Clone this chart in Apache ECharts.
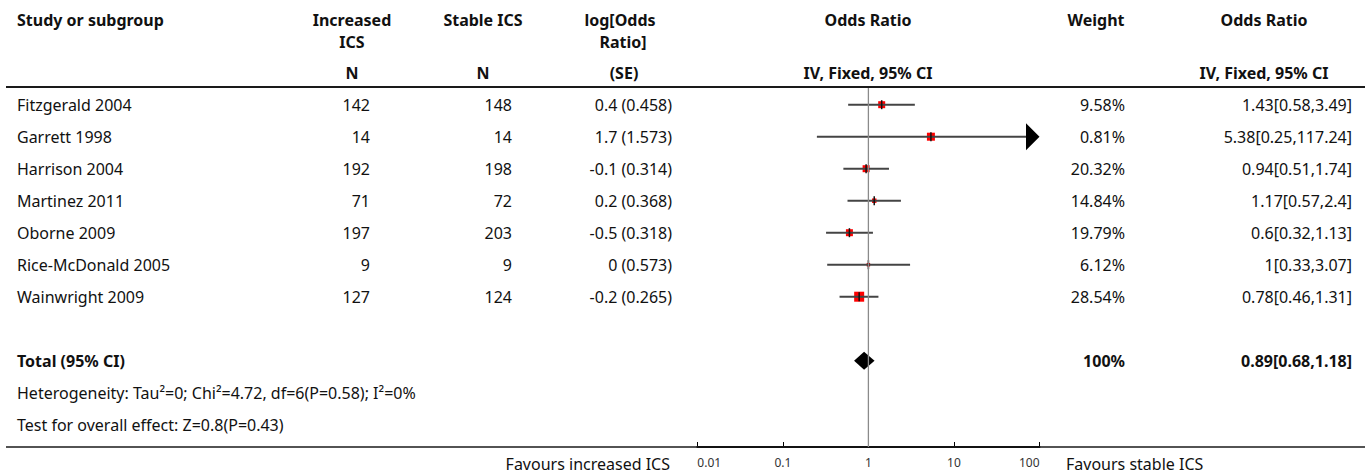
<!DOCTYPE html>
<html>
<head>
<meta charset="utf-8">
<title>Forest plot: increased vs stable ICS</title>
<script src="https://cdn.jsdelivr.net/npm/echarts@6/dist/echarts.min.js"></script>
<style>
  html, body { margin: 0; padding: 0; background: #fff; }
  #chart { width: 1370px; height: 475px; }
</style>
</head>
<body>
<div id="chart"></div>
<script>
// ---- Study data ----
const studies = ['Fitzgerald 2004', 'Garrett 1998', 'Harrison 2004', 'Martinez 2011',
                 'Oborne 2009', 'Rice-McDonald 2005', 'Wainwright 2009'];
const nIncreased = [142, 14, 192, 71, 197, 9, 127];
const nStable    = [148, 14, 198, 72, 203, 9, 124];
const logOR      = [0.4, 1.7, -0.1, 0.2, -0.5, 0, -0.2];
const logSE      = [0.458, 1.573, 0.314, 0.368, 0.318, 0.573, 0.265];
const weights    = [9.58, 0.81, 20.32, 14.84, 19.79, 6.12, 28.54];
const oddsRatio  = [1.43, 5.38, 0.94, 1.17, 0.6, 1, 0.78];
const ciLow      = [0.58, 0.25, 0.51, 0.57, 0.32, 0.33, 0.46];
const ciHigh     = [3.49, 117.24, 1.74, 2.4, 1.13, 3.07, 1.31];

// Pooled estimate: [OR, lower, upper] and total weight
const totalOR     = [0.89, 0.68, 1.18];
const totalWeight = 100;

// Heterogeneity: [Tau², Chi², df, P, I² (%)] and overall effect: [Z, P]
const heterogeneity = [0, 4.72, 6, 0.58, 0];
const overallEffect = [0.8, 0.43];

// Odds ratio axis
const tickValues = [0.01, 0.1, 1, 10, 100];
const tickLabels = ['0.01', '0.1', '1', '10', '100'];

// ---- Layout ----
const W = 1370, H = 475;
const ROW0 = 104.7, ROW_H = 32;      // first study row centre and row pitch (px)
const AXIS_Y = 447;                  // bottom rule / odds-ratio axis line
const HEADER_RULE_Y = 87;
const toRow = px => (px - ROW0) / ROW_H;
const Y_MIN = toRow(0), Y_MAX = toRow(H), PLOT_Y_MAX = toRow(AXIS_Y);
const PLOT_LEFT = 697.3, PLOT_RIGHT = 1039.5;
const X_MIN = tickValues[0], X_MAX = tickValues[tickValues.length - 1];

const FONT = '"Noto Sans", "DejaVu Sans", sans-serif';
const TEXT = '#111';
const BODY_SIZE = 16;
const BOX = [7, 8, 7, 4.5, 7, 3.5, 10];   // marker square sizes (px)

const ROW_TOTAL = 8, ROW_HET = 9, ROW_TEST = 10;

// Column anchors (px) and alignment
const COL = {
  study:  [17, 'left'],
  nInc:   [370, 'right'],
  nSt:    [512, 'right'],
  logor:  [672, 'right'],
  weight: [1125, 'right'],
  orci:   [1352, 'right']
};

// ---- Table cells ----
const cells = [];
function cell(text, x, row, align, bold, size) {
  cells.push({ text: String(text), x, row, align, bold: !!bold, size: size || BODY_SIZE });
}
function colCell(col, text, row, bold) { cell(text, COL[col][0], row, COL[col][1], bold); }

// header
const H1 = toRow(20), H2 = toRow(42), H3 = toRow(73);
cell('Study or subgroup', 17, H1, 'left', true);
cell('Increased', 352, H1, 'center', true);
cell('ICS', 352, H2, 'center', true);
cell('N', 352, H3, 'center', true);
cell('Stable ICS', 483, H1, 'center', true);
cell('N', 483, H3, 'center', true);
cell('log[Odds', 620, H1, 'center', true);
cell('Ratio]', 623, H2, 'center', true);
cell('(SE)', 624, H3, 'center', true);
cell('Odds Ratio', 868, H1, 'center', true);
cell('IV, Fixed, 95% CI', 868, H3, 'center', true);
cell('Weight', 1096, H1, 'center', true);
cell('Odds Ratio', 1264, H1, 'center', true);
cell('IV, Fixed, 95% CI', 1264, H3, 'center', true);

// study rows
studies.forEach((s, i) => {
  colCell('study', s, i);
  colCell('nInc', nIncreased[i], i);
  colCell('nSt', nStable[i], i);
  colCell('logor', `${logOR[i]} (${logSE[i]})`, i);
  colCell('weight', `${weights[i]}%`, i);
  colCell('orci', `${oddsRatio[i]}[${ciLow[i]},${ciHigh[i]}]`, i);
});

// totals and statistics
colCell('study', 'Total (95% CI)', ROW_TOTAL, true);
colCell('weight', `${totalWeight}%`, ROW_TOTAL, true);
colCell('orci', `${totalOR[0]}[${totalOR[1]},${totalOR[2]}]`, ROW_TOTAL, true);
colCell('study', `Heterogeneity: Tau\u00B2=${heterogeneity[0]}; Chi\u00B2=${heterogeneity[1]}, df=${heterogeneity[2]}(P=${heterogeneity[3]}); I\u00B2=${heterogeneity[4]}%`, ROW_HET);
colCell('study', `Test for overall effect: Z=${overallEffect[0]}(P=${overallEffect[1]})`, ROW_TEST);

// favours labels under the axis
cell('Favours increased ICS', 670, toRow(464), 'right', false);
cell('Favours stable ICS', 1066, toRow(464), 'left', false);

// ---- Render helpers ----
function renderCell(params, api) {
  const c = cells[params.dataIndex];
  const p = api.coord([c.x, c.row]);
  return {
    type: 'text',
    x: p[0], y: p[1],
    style: {
      text: c.text, align: c.align, verticalAlign: 'middle',
      fontFamily: FONT, fontSize: c.size, fontWeight: c.bold ? 'bold' : 'normal',
      fill: TEXT
    }
  };
}

// horizontal rules: header rule and bottom rule
const rules = [[HEADER_RULE_Y, 2, '#1a1a1a'], [AXIS_Y, 1.5, '#1a1a1a']];
function renderRule(params, api) {
  const r = rules[params.dataIndex];
  const a = api.coord([6, toRow(r[0])]);
  const b = api.coord([1365, toRow(r[0])]);
  return {
    type: 'line',
    shape: { x1: a[0], y1: a[1], x2: b[0], y2: b[1] },
    style: { stroke: r[2], lineWidth: r[1] }
  };
}

const ARROW_W = 13.5, ARROW_H = 13.5, TICK_HALF = 4.5;
function renderStudy(params, api) {
  const or = api.value(0), row = api.value(1), lo = api.value(2), hi = api.value(3);
  const pOr = api.coord([or, row]);
  const pLo = api.coord([Math.max(lo, X_MIN), row]);
  const clipped = hi > X_MAX;
  const pHi = api.coord([Math.min(hi, X_MAX), row]);
  const s = BOX[params.dataIndex];
  const children = [
    { type: 'rect', shape: { x: pOr[0] - s / 2, y: pOr[1] - s / 2, width: s, height: s },
      style: { fill: '#ff0000' } },
    { type: 'line',
      shape: { x1: pLo[0], y1: pLo[1], x2: clipped ? pHi[0] - ARROW_W : pHi[0], y2: pHi[1] },
      style: { stroke: '#444', lineWidth: 2 } },
    { type: 'line',
      shape: { x1: pOr[0], y1: pOr[1] - TICK_HALF, x2: pOr[0], y2: pOr[1] + TICK_HALF },
      style: { stroke: '#111', lineWidth: 1.5 } }
  ];
  if (clipped) {
    children.push({
      type: 'polygon',
      shape: { points: [[pHi[0] - ARROW_W, pHi[1] - ARROW_H], [pHi[0], pHi[1]], [pHi[0] - ARROW_W, pHi[1] + ARROW_H]] },
      style: { fill: '#000' }
    });
  }
  return { type: 'group', children };
}

function renderDiamond(params, api) {
  const or = api.value(0), row = api.value(1), lo = api.value(2), hi = api.value(3);
  const c = api.coord([or, row]);
  const l = api.coord([lo, row]);
  const r = api.coord([hi, row]);
  const h = 9;
  return {
    type: 'polygon',
    shape: { points: [[l[0], l[1]], [c[0], c[1] - h], [r[0], r[1]], [c[0], c[1] + h]] },
    style: { fill: '#000' }
  };
}

function tickLabel(v) {
  const i = tickValues.findIndex(t => Math.abs(Math.log10(t) - Math.log10(v)) < 1e-6);
  return i >= 0 ? tickLabels[i] : '';
}

const chart = echarts.init(document.getElementById('chart'), null, { renderer: 'svg' });
chart.setOption({
  animation: false,
  backgroundColor: '#fff',
  grid: [
    { left: 0, right: 0, top: 0, bottom: 0, outerBoundsMode: 'none' },
    { left: PLOT_LEFT, right: W - PLOT_RIGHT, top: 0, bottom: H - AXIS_Y, outerBoundsMode: 'none' }
  ],
  xAxis: [
    { gridIndex: 0, type: 'value', min: 0, max: W, show: false },
    {
      gridIndex: 1, type: 'log', logBase: 10, min: X_MIN, max: X_MAX, splitNumber: 4,
      position: 'bottom',
      axisLine: { show: true, onZero: false, lineStyle: { color: '#000', width: 2 } },
      axisTick: { show: true, inside: true, length: 5, lineStyle: { color: '#000', width: 1 } },
      minorTick: { show: false },
      splitLine: { show: false },
      axisLabel: {
        show: true, color: '#333', fontFamily: FONT, fontSize: 12, margin: 9,
        showMinLabel: true, showMaxLabel: true,
        alignMinLabel: 'left', alignMaxLabel: 'right',
        formatter: tickLabel
      }
    }
  ],
  yAxis: [
    { gridIndex: 0, type: 'value', min: Y_MIN, max: Y_MAX, inverse: true, show: false },
    { gridIndex: 1, type: 'value', min: Y_MIN, max: PLOT_Y_MAX, inverse: true, show: false }
  ],
  series: [
    {
      name: 'rules', type: 'custom', xAxisIndex: 0, yAxisIndex: 0,
      renderItem: renderRule, data: rules.map((r, i) => [i, 0]), silent: true
    },
    {
      name: 'no effect', type: 'line', xAxisIndex: 1, yAxisIndex: 1,
      data: [[1, toRow(HEADER_RULE_Y + 1)], [1, PLOT_Y_MAX]],
      symbol: 'none', lineStyle: { color: '#8a8a8a', width: 1.3 }, silent: true
    },
    {
      name: 'studies', type: 'custom', xAxisIndex: 1, yAxisIndex: 1,
      renderItem: renderStudy,
      data: studies.map((s, i) => [oddsRatio[i], i, ciLow[i], ciHigh[i]]),
      clip: false, silent: true
    },
    {
      name: 'total', type: 'custom', xAxisIndex: 1, yAxisIndex: 1,
      renderItem: renderDiamond,
      data: [[totalOR[0], ROW_TOTAL, totalOR[1], totalOR[2]]],
      silent: true
    },
    {
      name: 'table', type: 'custom', xAxisIndex: 0, yAxisIndex: 0,
      renderItem: renderCell, data: cells.map(c => [c.x, c.row]), silent: true
    }
  ]
});
</script>
</body>
</html>
